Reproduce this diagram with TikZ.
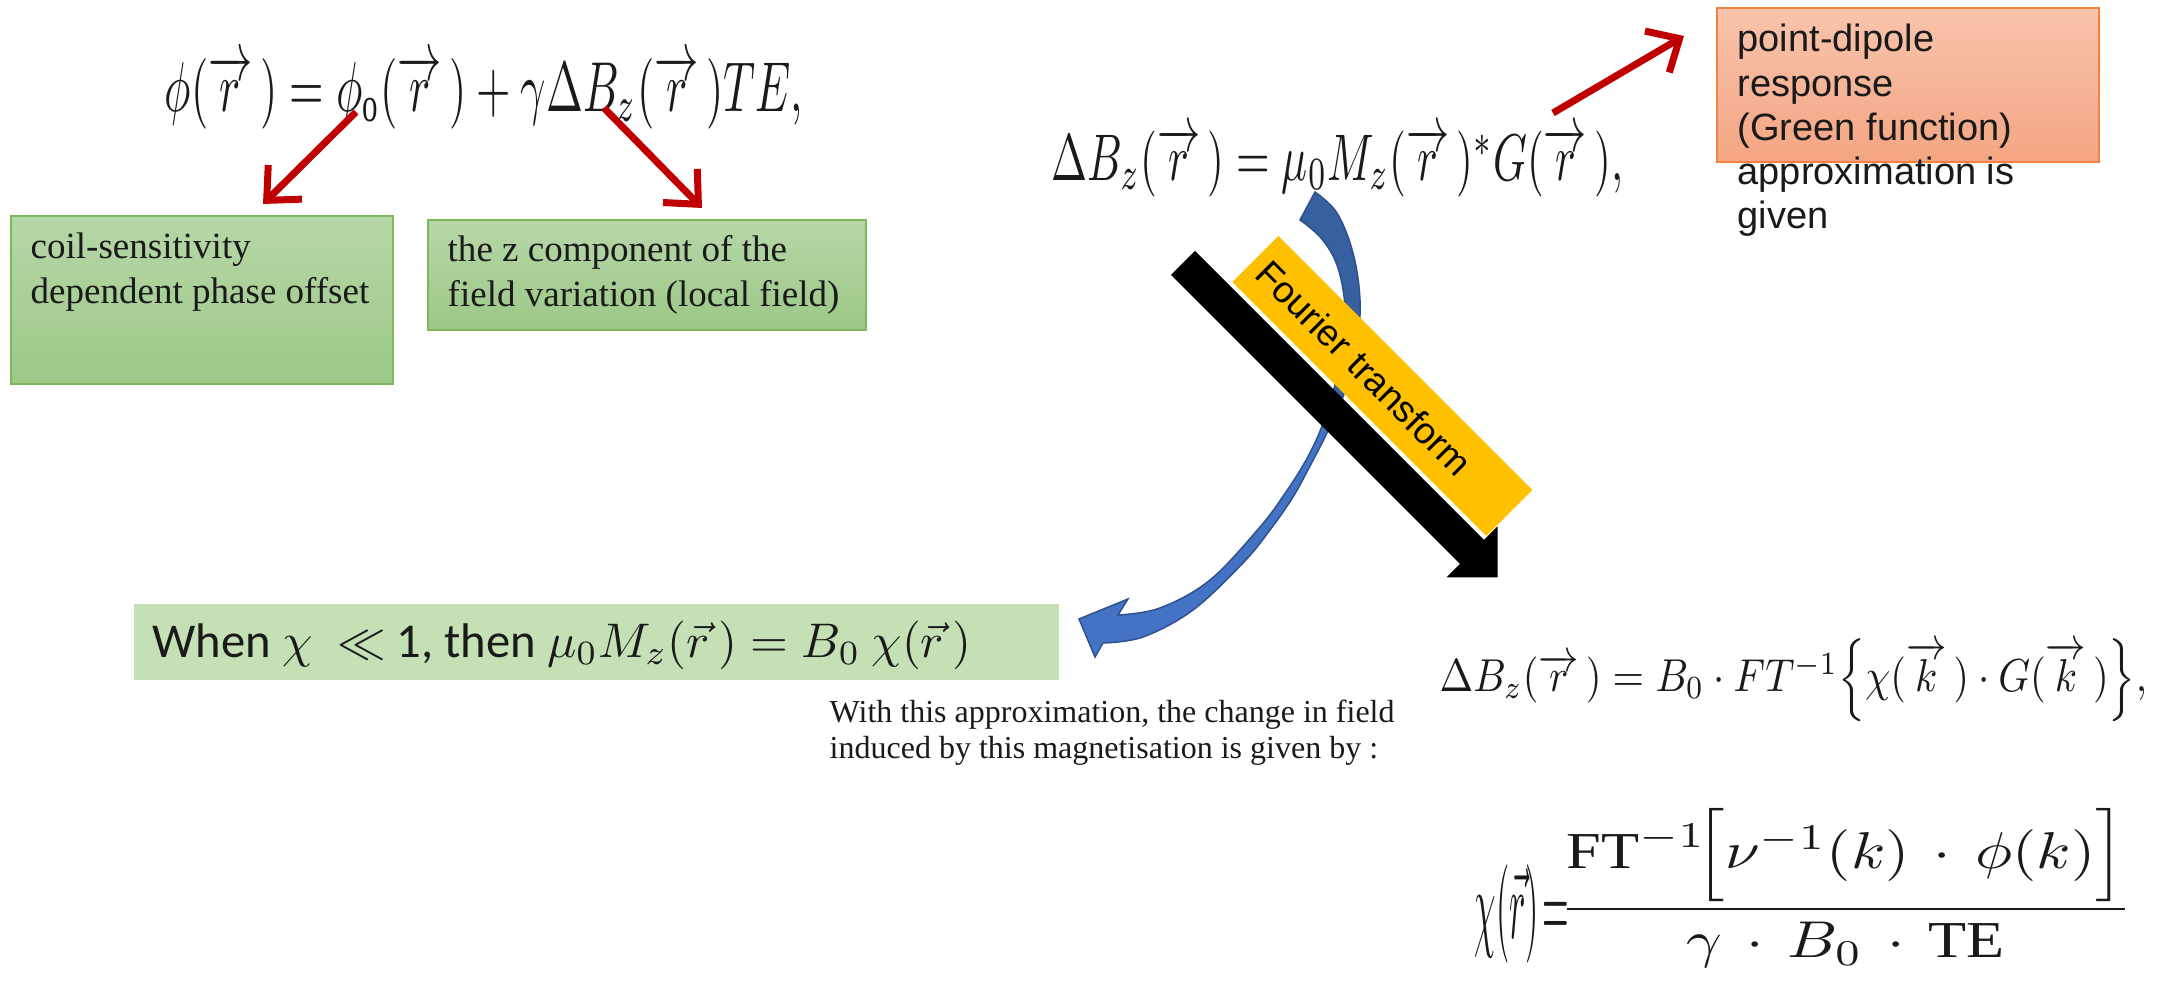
\documentclass[tikz,border=0pt]{standalone}
\usepackage{amsmath}
\usepackage{graphicx}
\usepackage{fontspec}
\setmainfont{Liberation Serif}
\newfontfamily\arialf{Liberation Sans}
\newfontfamily\calibrif{Carlito}
\usetikzlibrary{arrows.meta}
\definecolor{redA}{HTML}{C00000}
\definecolor{gtop}{HTML}{B6D7A8}
\definecolor{gbot}{HTML}{9CC887}
\definecolor{gline}{HTML}{7DB85E}
\definecolor{otop}{HTML}{F8C4AC}
\definecolor{obot}{HTML}{F4A582}
\definecolor{oline}{HTML}{F0843C}
\definecolor{yel}{HTML}{FFC000}
\definecolor{bluedk}{HTML}{36609F}
\definecolor{bluelt}{HTML}{4472C4}
\definecolor{blueln}{HTML}{2F528F}
\definecolor{lgreen}{HTML}{C5E0B4}
\definecolor{txt}{HTML}{1A1A1A}
\tikzset{
  redarrow/.style={draw=redA, line width=0.07cm, -{Straight Barb[length=0.26cm, width=0.48cm]}},
  gbox/.style={draw=gline, line width=0.02cm, top color=gtop, bottom color=gbot, anchor=north west, inner sep=0pt},
  obox/.style={draw=oline, line width=0.02cm, top color=otop, bottom color=obot, anchor=north west, inner sep=0pt},
  eqn/.style={inner sep=0pt, text=txt},
  lbl/.style={inner sep=0pt, anchor=base west, text=txt},
}
\begin{document}
\begin{tikzpicture}[x=0.01cm, y=-0.01cm]
\useasboundingbox (0,0) rectangle (2174,983);
\fill[white] (0,0) rectangle (2174,983);

% blue curved arrow (behind)
\filldraw[fill=bluedk, draw=blueln, line width=0.015cm]
  plot[smooth, tension=0.6] coordinates {(1315,192) (1337,213) (1353,253) (1360,300) (1357,345) (1347,385) (1336,415)}
  -- plot[smooth, tension=0.6] coordinates {(1325,415) (1335,385) (1344,345) (1345,305) (1337,265) (1321,238) (1300,220)}
  -- cycle;
\filldraw[fill=bluelt, draw=blueln, line width=0.015cm]
  plot[smooth, tension=0.6] coordinates {(1337,410) (1325,437) (1310,466) (1293,497) (1270,530) (1243,563) (1193,610) (1143,637) (1103,643)}
  -- (1095,657) -- (1079,619) -- (1128,599)
  -- plot[smooth, tension=0.6] coordinates {(1118,615) (1160,608) (1210,580) (1260,527) (1286,492) (1305,462) (1318,436) (1328,410)}
  -- cycle;

% yellow band with text
\node[fill=yel, rotate=-45, minimum width=3.59cm, minimum height=0.65cm, text width=3.37cm,
      inner xsep=0.11cm, inner ysep=0pt, align=left, font=\arialf\fontsize{10.53pt}{12pt}\selectfont]
  (ft) at (1382.4,386.1) {Fourier transform};

% black arrow
\fill[black] (1195,251) -- (1484,540) -- (1497.5,526.5) -- (1497.5,577.5) -- (1446.5,577.5) -- (1460,564) -- (1171,275) -- cycle;

% equations
\node[eqn, anchor=west] (eq1) at (164,92)
  {\resizebox*{6.38cm}{0.74cm}{$\phi(\overrightarrow{r}\,) = \phi_{\mathrm{o}}(\overrightarrow{r}\,) + \gamma\Delta B_z(\overrightarrow{r}\,)TE,$}};
\node[eqn, anchor=west] (eq2) at (1051,162)
  {\resizebox*{5.71cm}{0.69cm}{$\Delta B_z(\overrightarrow{r}\,) = \mu_0 M_z(\overrightarrow{r}\,)^{*} G(\overrightarrow{r}\,),$}};
\node[eqn, anchor=west] (eq3) at (1439,680)
  {\resizebox*{7.07cm}{0.83cm}{$\Delta B_z(\overrightarrow{r}\,) = B_0\cdot FT^{-1}\Big\{\chi(\overrightarrow{k}\,)\cdot G(\overrightarrow{k}\,)\Big\},$}};
\node[eqn, anchor=north west] (eq4) at (1474,808)
  {\resizebox*{6.57cm}{1.59cm}{$\raisebox{-0.7ex}{\scalebox{0.55}[1.9]{$\chi(\vec{r})\!=$}}\!\dfrac{\mathrm{FT}^{-1}\!\Big[\nu^{-1}(k)\,\cdot\,\phi(k)\Big]}{\gamma\,\cdot\,B_0\,\cdot\,\mathrm{TE}}$}};

% green boxes
\node[gbox, minimum width=3.82cm, minimum height=1.68cm] (b1) at (10,215) {};
\node[lbl] (b1t) at (30,259)
  {\parbox[t]{3.7cm}{\fontsize{10.53pt}{12.52pt}\selectfont coil-sensitivity\\dependent phase offset}};
\node[gbox, minimum width=4.38cm, minimum height=1.10cm] (b2) at (427,219) {};
\node[lbl] (b2t) at (447,262)
  {\parbox[t]{4.3cm}{\fontsize{10.53pt}{12.52pt}\selectfont the z component of the\\field variation (local field)}};

% orange box
\node[obox, minimum width=3.82cm, minimum height=1.54cm] (ob) at (1716,7) {};
\node[lbl] (obt) at (1737,52)
  {\parbox[t]{4cm}{\arialf\fontsize{10.81pt}{12.52pt}\selectfont point-dipole\\response\\(Green function)\\approximation is\\given}};

% bottom-left box
\node[fill=lgreen, anchor=north west, minimum width=9.25cm, minimum height=0.76cm, inner sep=0pt] (b3) at (133,603) {};
\node[eqn, anchor=west] (b3t) at (152,645)
  {\resizebox{8.18cm}{!}{\calibrif When $\chi\ \ll$ 1, then $\mu_0 M_z(\vec{r}\,) = B_0\ \chi(\vec{r}\,)$}};

% caption text
\node[lbl] (cap) at (829,723)
  {\parbox[t]{6cm}{\fontsize{9.1pt}{9.96pt}\selectfont With this approximation, the change in field\\induced by this magnetisation is given by :}};

% red arrows
\coordinate (a1s) at (356,112); \coordinate (a1e) at (263,204);
\coordinate (a2s) at (604,108); \coordinate (a2e) at (702,208);
\coordinate (a3s) at (1553,113); \coordinate (a3e) at (1684,36);
\draw[redarrow] (a1s) -- (a1e);
\draw[redarrow] (a2s) -- (a2e);
\draw[redarrow] (a3s) -- (a3e);
\end{tikzpicture}
\end{document}
